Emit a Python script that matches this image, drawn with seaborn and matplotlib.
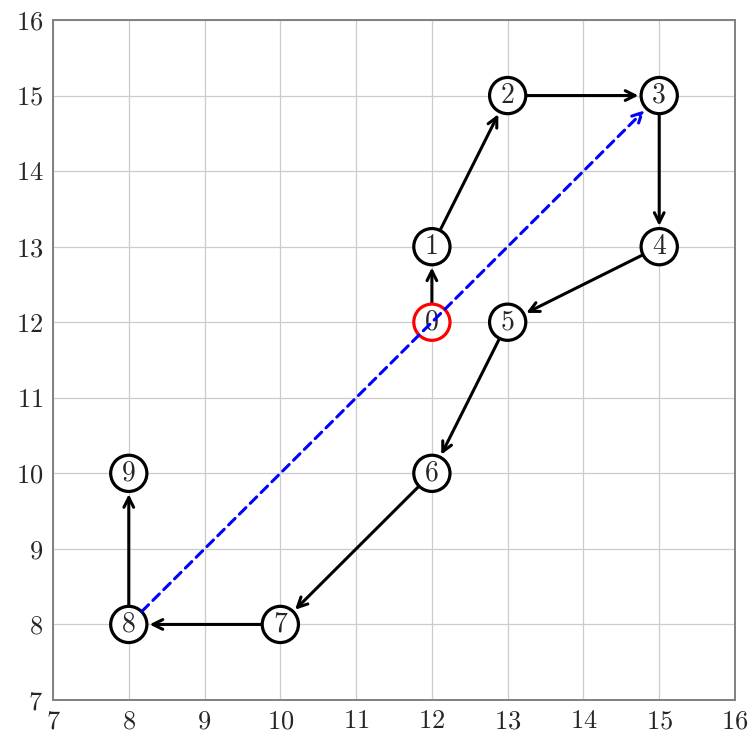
import matplotlib
matplotlib.use('Agg')
import matplotlib.pyplot as plt
import seaborn as sns
import pandas as pd

node_ids = [0, 1, 2, 3, 4, 5, 6, 7, 8, 9]
node_x = [12, 12, 13, 15, 15, 13, 12, 10, 8, 8]
node_y = [12, 13, 15, 15, 13, 12, 10, 8, 8, 10]
node_color = ['red', 'black', 'black', 'black', 'black', 'black', 'black', 'black', 'black', 'black']
path_edges = [(0, 1), (1, 2), (2, 3), (3, 4), (4, 5), (5, 6), (6, 7), (7, 8), (8, 9)]
shortcut = (8, 3)
ticks = list(range(7, 17))

df = pd.DataFrame({'id': node_ids, 'x': node_x, 'y': node_y, 'c': node_color})

sns.set_style('white')
plt.rcParams['font.family'] = ['cmr10', 'DejaVu Serif']
plt.rcParams['axes.formatter.use_mathtext'] = True

fig = plt.figure(figsize=(7.52, 7.38), dpi=100)
ax = fig.add_axes([53 / 752, 1 - 700 / 738, (735 - 53) / 752, (700 - 20) / 738])

r_pt = 13.5
head = '->,head_length=0.7,head_width=0.35'
for a, b in path_edges:
    ax.annotate('', xy=(node_x[b], node_y[b]), xytext=(node_x[a], node_y[a]),
                arrowprops=dict(arrowstyle=head, color='black', lw=2.2,
                                shrinkA=r_pt, shrinkB=r_pt + 1.5), zorder=2)

sns.scatterplot(data=df, x='x', y='y', s=680, facecolor='white', edgecolor=df['c'],
                linewidth=2.3, ax=ax, zorder=3, legend=False)
for i, x, y in zip(node_ids, node_x, node_y):
    ax.text(x, y, str(i), ha='center', va='center', fontsize=20, zorder=4)

a, b = shortcut
ax.annotate('', xy=(node_x[b], node_y[b]), xytext=(node_x[a], node_y[a]),
            arrowprops=dict(arrowstyle=head, color='blue', lw=2.2, ls=(0, (3, 2)),
                            shrinkA=r_pt, shrinkB=r_pt + 1.5), zorder=5)

ax.set_xlim(7, 16)
ax.set_ylim(7, 16)
ax.set_xticks(ticks)
ax.set_yticks(ticks)
ax.tick_params(labelsize=19, length=0, pad=7)
ax.grid(True, color='#cccccc', lw=0.9)
ax.set_axisbelow(True)
for s in ax.spines.values():
    s.set_color('#808080')
    s.set_linewidth(1.4)
ax.set_xlabel('')
ax.set_ylabel('')

fig.savefig('out.png', dpi=100)
